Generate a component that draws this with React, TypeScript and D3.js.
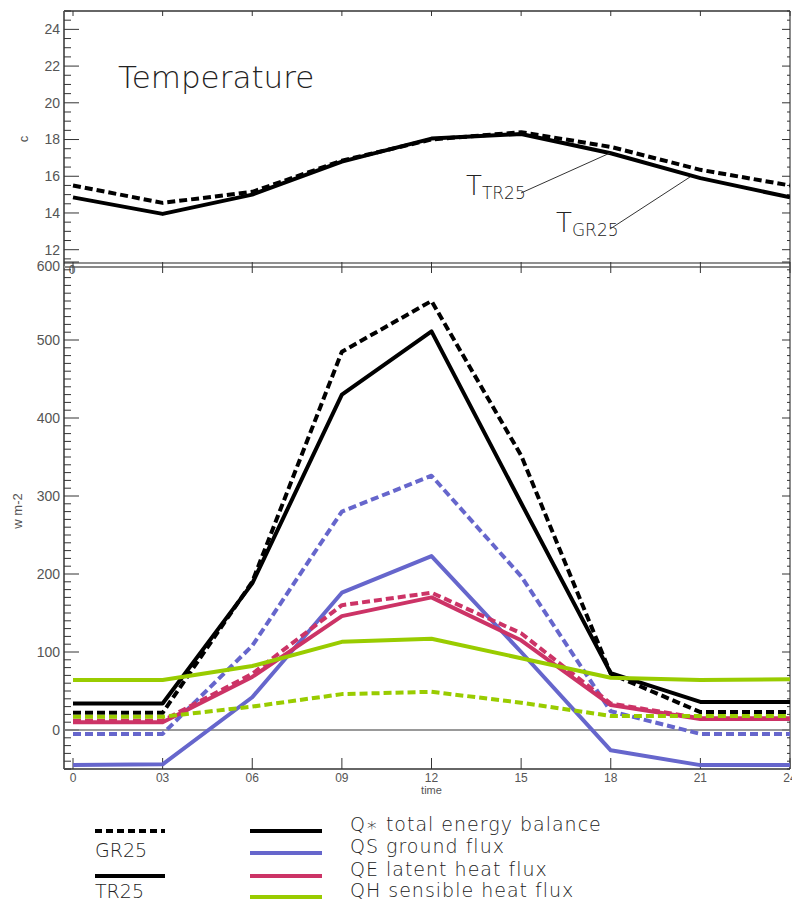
import React, { useEffect, useRef } from "react";
import * as d3 from "d3";

// hours of the day (x axis)
const hours = [0, 3, 6, 9, 12, 15, 18, 21, 24];
const hourLabels = ["0", "03", "06", "09", "12", "15", "18", "21", "24"];

// temperature panel (C)
const tempTR25 = [14.85, 13.95, 15.0, 16.8, 18.05, 18.3, 17.25, 15.9, 14.85];
const tempGR25 = [15.5, 14.55, 15.15, 16.85, 18.0, 18.4, 17.6, 16.35, 15.5];
const tempTicks = [12, 14, 16, 18, 20, 22, 24];

// energy fluxes (W m-2), solid = TR25, dashed = GR25
const qStarTR25 = [34, 34, 188, 430, 511, 291, 73, 36, 36];
const qStarGR25 = [22, 22, 190, 485, 550, 352, 72, 23, 23];
const qsTR25 = [-45, -44, 42, 176, 223, 100, -26, -45, -45];
const qsGR25 = [-5, -5, 108, 280, 326, 197, 24, -5, -5];
const qeTR25 = [10, 10, 68, 146, 170, 115, 32, 14, 14];
const qeGR25 = [12, 12, 72, 160, 176, 124, 34, 15, 15];
const qhTR25 = [64, 64, 82, 113, 117, 92, 67, 64, 65];
const qhGR25 = [17, 17, 30, 46, 49, 35, 18, 18, 18];
const fluxTicks = [0, 100, 200, 300, 400, 500, 600];

const fluxNames = [
  "Q\u2217 total energy balance",
  "QS ground flux",
  "QE latent heat flux",
  "QH sensible heat flux",
];
const fluxColors = ["#000000", "#6666cc", "#cc3366", "#99cc00"];
const runNames = ["GR25", "TR25"];

export default function App() {
  const ref = useRef<SVGSVGElement | null>(null);

  useEffect(() => {
    if (!ref.current) return;
    const svg = d3.select(ref.current);
    svg.selectAll("*").remove();

    const left = 64;
    const right = 790;
    const topT = 11;
    const midY = 262;
    const bottomY = 769;

    const x = d3.scaleLinear().domain([0, 24]).range([73, 790]);
    const yT = d3.scaleLinear().domain([11.33, 25]).range([midY, topT]);
    const yB = d3.scaleLinear().domain([-50, 600]).range([bottomY, midY]);

    const axisCol = "#555";
    const labelFont = "Liberation Sans, Arial, sans-serif";
    const thinFont = "DejaVu Sans, sans-serif";

    // ---------- frames ----------
    svg.append("line").attr("x1", left).attr("x2", right).attr("y1", topT).attr("y2", topT)
      .attr("stroke", "#333").attr("stroke-width", 1.5);
    svg.append("line").attr("x1", right).attr("x2", right).attr("y1", topT).attr("y2", bottomY)
      .attr("stroke", "#666").attr("stroke-width", 1.5);
    svg.append("line").attr("x1", left).attr("x2", left).attr("y1", topT).attr("y2", bottomY)
      .attr("stroke", "#666").attr("stroke-width", 2);
    svg.append("line").attr("x1", left).attr("x2", right).attr("y1", midY + 1).attr("y2", midY + 1)
      .attr("stroke", "#222").attr("stroke-width", 1.2);
    svg.append("line").attr("x1", left).attr("x2", right).attr("y1", midY + 5).attr("y2", midY + 5)
      .attr("stroke", "#888").attr("stroke-width", 2);
    svg.append("line").attr("x1", left).attr("x2", right).attr("y1", bottomY).attr("y2", bottomY)
      .attr("stroke", "#666").attr("stroke-width", 2);

    // top panel y ticks
    const tMinor = d3.range(11.5, 25.01, 0.5);
    tMinor.forEach((v) => {
      const major = tempTicks.includes(v);
      svg.append("line").attr("x1", left).attr("x2", left + (major ? 15 : 7))
        .attr("y1", yT(v)).attr("y2", yT(v)).attr("stroke", "#333").attr("stroke-width", 1);
      svg.append("line").attr("x1", right).attr("x2", right - (major ? 8 : 3))
        .attr("y1", yT(v)).attr("y2", yT(v)).attr("stroke", "#333").attr("stroke-width", 1);
    });
    tempTicks.forEach((v) => {
      svg.append("text").attr("x", 60).attr("y", yT(v)).attr("dy", "0.35em")
        .attr("text-anchor", "end").attr("font-family", labelFont).attr("font-size", 14)
        .attr("fill", axisCol).text(v);
    });
    svg.append("text").attr("transform", `translate(28,139) rotate(-90)`)
      .attr("text-anchor", "middle").attr("font-family", labelFont).attr("font-size", 13)
      .attr("fill", axisCol).text("c");

    // x ticks on the frames
    hours.forEach((h) => {
      svg.append("line").attr("x1", x(h)).attr("x2", x(h)).attr("y1", topT).attr("y2", topT + 5)
        .attr("stroke", "#333");
      svg.append("line").attr("x1", x(h)).attr("x2", x(h)).attr("y1", midY).attr("y2", midY + 11)
        .attr("stroke", "#333");
      svg.append("line").attr("x1", x(h)).attr("x2", x(h)).attr("y1", bottomY).attr("y2", bottomY - 11)
        .attr("stroke", "#333");
    });
    svg.append("text").attr("x", x(0) - 1).attr("y", midY + 12).attr("text-anchor", "middle")
      .attr("font-family", labelFont).attr("font-size", 12).attr("fill", axisCol).text("0");

    // bottom panel y ticks
    d3.range(-50, 601, 10).forEach((v) => {
      const major = fluxTicks.includes(v);
      svg.append("line").attr("x1", left).attr("x2", left + (major ? 15 : 7))
        .attr("y1", yB(v)).attr("y2", yB(v)).attr("stroke", "#333").attr("stroke-width", 1);
      svg.append("line").attr("x1", right).attr("x2", right - (major ? 8 : 3))
        .attr("y1", yB(v)).attr("y2", yB(v)).attr("stroke", "#333").attr("stroke-width", 1);
    });
    fluxTicks.forEach((v) => {
      svg.append("text").attr("x", 60).attr("y", yB(v) + (v === 600 ? 4 : 0)).attr("dy", "0.35em")
        .attr("text-anchor", "end").attr("font-family", labelFont).attr("font-size", 14)
        .attr("fill", axisCol).text(v);
    });
    svg.append("text").attr("transform", `translate(22,511) rotate(-90)`)
      .attr("text-anchor", "middle").attr("font-family", labelFont).attr("font-size", 13)
      .attr("fill", axisCol).text("w m-2");

    // x labels
    hours.forEach((h, i) => {
      svg.append("text").attr("x", x(h)).attr("y", 782).attr("text-anchor", "middle")
        .attr("font-family", labelFont).attr("font-size", 12).attr("fill", axisCol)
        .text(hourLabels[i]);
    });
    svg.append("text").attr("x", x(12)).attr("y", 794).attr("text-anchor", "middle")
      .attr("font-family", labelFont).attr("font-size", 11).attr("fill", axisCol).text("time");

    // zero line
    svg.append("line").attr("x1", left).attr("x2", right).attr("y1", yB(0)).attr("y2", yB(0))
      .attr("stroke", "#777").attr("stroke-width", 1.5);

    // title
    svg.append("text").attr("x", 118).attr("y", 88).attr("font-family", thinFont)
      .attr("font-weight", 200).attr("font-size", 31).attr("fill", "#222").text("Temperature");

    // clip paths
    const defs = svg.append("defs");
    defs.append("clipPath").attr("id", "clipT").append("rect")
      .attr("x", left).attr("y", topT).attr("width", right - left).attr("height", midY - topT);
    defs.append("clipPath").attr("id", "clipB").append("rect")
      .attr("x", left).attr("y", midY).attr("width", right - left).attr("height", bottomY - midY);

    const dash = "8,4";

    // temperature lines
    const lineT = d3.line<number>().x((_, i) => x(hours[i])).y((d) => yT(d));
    const gT = svg.append("g").attr("clip-path", "url(#clipT)");
    gT.append("path").attr("d", lineT(tempTR25)).attr("fill", "none").attr("stroke", "#000")
      .attr("stroke-width", 4).attr("stroke-linejoin", "round");
    gT.append("path").attr("d", lineT(tempGR25)).attr("fill", "none").attr("stroke", "#000")
      .attr("stroke-width", 4).attr("stroke-dasharray", dash).attr("stroke-linejoin", "round");

    // annotations
    const annot = [
      { main: 466, base: 195, sub: "TR25", from: [521, 193], to: [610, 153] },
      { main: 556, base: 232, sub: "GR25", from: [610, 229], to: [690, 177] },
    ];
    annot.forEach((a) => {
      const t = svg.append("text").attr("x", a.main).attr("y", a.base)
        .attr("font-family", thinFont).attr("font-weight", 200).attr("fill", "#222");
      t.append("tspan").attr("font-size", 26).text("T");
      t.append("tspan").attr("font-size", 17).attr("dy", 4).text(a.sub);
      svg.append("line").attr("x1", a.from[0]).attr("y1", a.from[1]).attr("x2", a.to[0])
        .attr("y2", a.to[1]).attr("stroke", "#333").attr("stroke-width", 1);
    });

    // flux lines
    const fluxSeries = [
      { tr: qStarTR25, gr: qStarGR25 },
      { tr: qsTR25, gr: qsGR25 },
      { tr: qeTR25, gr: qeGR25 },
      { tr: qhTR25, gr: qhGR25 },
    ];
    const lineB = d3.line<number>().x((_, i) => x(hours[i])).y((d) => yB(d));
    const gB = svg.append("g").attr("clip-path", "url(#clipB)");
    fluxSeries.forEach((s, k) => {
      gB.append("path").attr("d", lineB(s.tr)).attr("fill", "none").attr("stroke", fluxColors[k])
        .attr("stroke-width", 4).attr("stroke-linejoin", "round");
      gB.append("path").attr("d", lineB(s.gr)).attr("fill", "none").attr("stroke", fluxColors[k])
        .attr("stroke-width", 4).attr("stroke-dasharray", dash).attr("stroke-linejoin", "round");
    });

    // legend: runs
    const runY = [831, 876];
    const runTextY = [857, 898];
    runNames.forEach((r, i) => {
      svg.append("line").attr("x1", 95).attr("x2", 165).attr("y1", runY[i]).attr("y2", runY[i])
        .attr("stroke", "#000").attr("stroke-width", 4)
        .attr("stroke-dasharray", i === 0 ? "7,4" : null);
      svg.append("text").attr("x", 95).attr("y", runTextY[i]).attr("font-family", thinFont)
        .attr("font-weight", 200).attr("font-size", 19).attr("fill", "#222").text(r);
    });

    // legend: fluxes
    const fluxY = [831, 853, 876, 897];
    fluxNames.forEach((n, i) => {
      svg.append("line").attr("x1", 250).attr("x2", 322).attr("y1", fluxY[i]).attr("y2", fluxY[i])
        .attr("stroke", fluxColors[i]).attr("stroke-width", 4);
      svg.append("text").attr("x", 350).attr("y", fluxY[i]).attr("font-family", thinFont)
        .attr("font-weight", 200).attr("font-size", 19).attr("letter-spacing", 1)
        .attr("fill", "#222").text(n);
    });
  }, []);

  return (
    <svg
      ref={ref}
      width={792}
      height={903}
      style={{ position: "absolute", left: 0, top: 0, background: "#fff" }}
    />
  );
}
